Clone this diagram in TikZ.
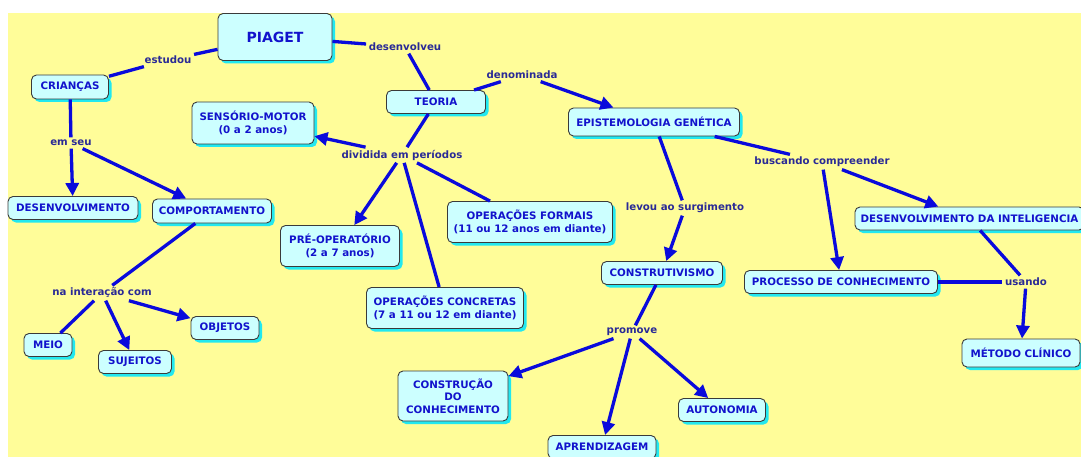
\documentclass[tikz,border=0pt]{standalone}
\usepackage{fontspec}
\setmainfont{DejaVu Sans}
\usetikzlibrary{arrows.meta,shadows}
\definecolor{bg}{HTML}{FFFD99}
\definecolor{boxfill}{HTML}{CCFFFF}
\definecolor{boxborder}{HTML}{3A3A3A}
\definecolor{shadowc}{HTML}{22E8F0}
\definecolor{nodetext}{HTML}{1212CC}
\definecolor{labeltext}{HTML}{2A2A96}
\definecolor{linkc}{HTML}{0A0ADC}
\tikzset{
  concept/.style={draw=boxborder, line width=0.9pt, fill=boxfill, rounded corners=5pt,
    text=nodetext, font=\fontsize{10.3}{13}\selectfont\bfseries, align=center, inner sep=0pt,
    drop shadow={shadow xshift=3pt, shadow yshift=-3pt, fill=shadowc, opacity=1}},
  linklabel/.style={text=labeltext, font=\fontsize{10.2}{12}\selectfont\bfseries, inner sep=2.5pt},
  link/.style={draw=linkc, line width=3.3pt},
  linkarrow/.style={link, -{Triangle[length=13pt,width=13pt]}},
}
\begin{document}
\begin{tikzpicture}[x=1pt,y=-1pt]
\fill[white] (0,0) rectangle (1081,457);
\useasboundingbox (0,0) rectangle (1081,457);
\fill[bg] (8,13) rectangle (1081,457);

% concepts
\node[concept, minimum width=114pt, minimum height=47pt, font=\fontsize{14}{16}\selectfont\bfseries] (piaget) at (275,37) {PIAGET};
\node[concept, minimum width=77pt, minimum height=24pt] (criancas) at (70,87) {CRIANÇAS};
\node[concept, minimum width=122pt, minimum height=42pt] (sensorio) at (253,123) {SENSÓRIO-MOTOR\\(0 a 2 anos)};
\node[concept, minimum width=130pt, minimum height=23pt] (desenv) at (73,208) {DESENVOLVIMENTO};
\node[concept, minimum width=119pt, minimum height=24pt] (comport) at (212,211) {COMPORTAMENTO};
\node[concept, minimum width=99pt, minimum height=23pt] (teoria) at (436,102) {TEORIA};
\node[concept, minimum width=171pt, minimum height=28pt] (epist) at (654,122) {EPISTEMOLOGIA GENÉTICA};
\node[concept, minimum width=165pt, minimum height=41pt] (formais) at (530,222) {OPERAÇÕES FORMAIS\\(11 ou 12 anos em diante)};
\node[concept, minimum width=119pt, minimum height=41pt] (preop) at (340,246) {PRÉ-OPERATÓRIO\\(2 a 7 anos)};
\node[concept, minimum width=157pt, minimum height=41pt] (concretas) at (445,308) {OPERAÇÕES CONCRETAS\\(7 a 11 ou 12 em diante)};
\node[concept, minimum width=110pt, minimum height=50pt, font=\fontsize{10.3}{12.3}\selectfont\bfseries] (construcao) at (453,396) {CONSTRUÇÃO\\DO\\CONHECIMENTO};
\node[concept, minimum width=108pt, minimum height=23pt] (aprend) at (602,447) {APRENDIZAGEM};
\node[concept, minimum width=121pt, minimum height=23pt] (construt) at (662,273) {CONSTRUTIVISMO};
\node[concept, minimum width=87pt, minimum height=23pt] (autonomia) at (722,410) {AUTONOMIA};
\node[concept, minimum width=193pt, minimum height=23pt] (processo) at (841,282) {PROCESSO DE CONHECIMENTO};
\node[concept, minimum width=229pt, minimum height=23pt] (intelig) at (969.5,218.5) {DESENVOLVIMENTO DA INTELIGENCIA};
\node[concept, minimum width=118pt, minimum height=28pt] (metodo) at (1021,353) {MÉTODO CLÍNICO};
\node[concept, minimum width=48pt, minimum height=23pt] (meio) at (48,345) {MEIO};
\node[concept, minimum width=73pt, minimum height=23pt] (sujeitos) at (135,362) {SUJEITOS};
\node[concept, minimum width=68pt, minimum height=23pt] (objetos) at (225,328) {OBJETOS};

% linking phrases
\node[linklabel] (estudou) at (168,60) {estudou};
\node[linklabel] (desenvolveu) at (405,47) {desenvolveu};
\node[linklabel] (denominada) at (522,75) {denominada};
\node[linklabel] (emseu) at (71,143) {em seu};
\node[linklabel] (dividida) at (402,155) {dividida em períodos};
\node[linklabel] (levou) at (685,208) {levou ao surgimento};
\node[linklabel] (buscando) at (822,162) {buscando compreender};
\node[linklabel] (usando) at (1026,282) {usando};
\node[linklabel] (interacao) at (102,293) {na interação com};
\node[linklabel] (promove) at (632,332) {promove};

% connectors
\draw[link] (piaget) -- (estudou);
\draw[link] (estudou) -- (criancas);
\draw[link] (piaget) -- (desenvolveu);
\draw[link] (desenvolveu) -- (teoria);
\draw[link] (teoria) -- (denominada);
\draw[linkarrow] (denominada) -- (epist);
\draw[link] (teoria) -- (dividida);
\draw[linkarrow] (dividida) -- (sensorio);
\draw[linkarrow] (dividida) -- (preop);
\draw[link] (dividida) -- (concretas);
\draw[link] (dividida) -- (formais);
\draw[link] (criancas) -- (emseu);
\draw[linkarrow] (emseu) -- (desenv);
\draw[linkarrow] (emseu) -- (comport);
\draw[link] (comport) -- (interacao);
\draw[link] (interacao) -- (meio);
\draw[linkarrow] (interacao) -- (sujeitos);
\draw[linkarrow] (interacao) -- (objetos);
\draw[link] (epist) -- (levou);
\draw[linkarrow] (levou) -- (construt);
\draw[link] (epist) -- (buscando);
\draw[linkarrow] (buscando) -- (processo);
\draw[linkarrow] (buscando) -- (intelig);
\draw[link] (intelig) -- (usando);
\draw[link] (processo) -- (usando);
\draw[linkarrow] (usando) -- (metodo);
\draw[link] (construt) -- (promove);
\draw[linkarrow] (promove) -- (construcao);
\draw[linkarrow] (promove) -- (aprend);
\draw[linkarrow] (promove) -- (autonomia);
\end{tikzpicture}
\end{document}
